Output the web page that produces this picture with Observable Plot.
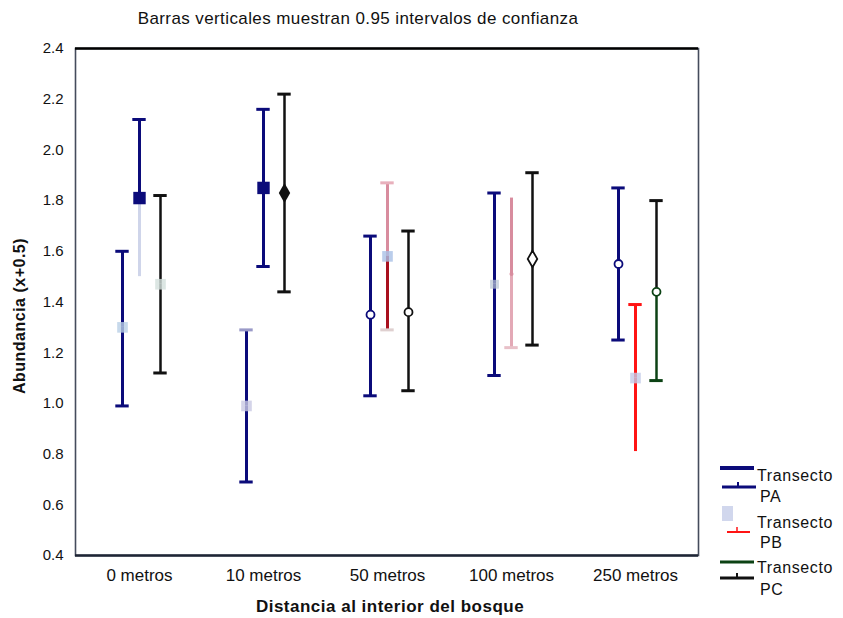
<!DOCTYPE html>
<html><head><meta charset="utf-8">
<script src="https://cdn.jsdelivr.net/npm/d3@7"></script>
<script src="https://cdn.jsdelivr.net/npm/@observablehq/plot@0.6"></script>
<style>
body{margin:0;background:#fff;}
#wrap{position:relative;width:843px;height:618px;font-family:"Liberation Sans",Arial,sans-serif;color:#111;overflow:hidden;}
.lbl{position:absolute;white-space:nowrap;line-height:1;}
</style></head><body><div id="wrap"></div>
<script>
// ---------- data ----------
const categories = ["0 metros", "10 metros", "50 metros", "100 metros", "250 metros"];
const seriesNames = ["Transecto PA", "Transecto PB", "Transecto PC"];
const meanPA = [1.30, 0.99, 1.35, 1.47, 1.55];
const lowPA  = [0.99, 0.69, 1.03, 1.11, 1.25];
const highPA = [1.60, 1.29, 1.66, 1.83, 1.85];
const meanPB = [1.81, 1.85, 1.58, 1.51, 1.10];
const lowPB  = [1.50, 1.54, 1.29, 1.22, 0.81];
const highPB = [2.12, 2.16, 1.87, 1.81, 1.39];
const meanPC = [1.47, 1.83, 1.36, 1.57, 1.44];
const lowPC  = [1.12, 1.44, 1.05, 1.23, 1.09];
const highPC = [1.82, 2.22, 1.68, 1.91, 1.80];
const yTicks = [0.4, 0.6, 0.8, 1.0, 1.2, 1.4, 1.6, 1.8, 2.0, 2.2, 2.4];
const titleText = "Barras verticales muestran 0.95 intervalos de confianza";
const xLabel = "Distancia al interior del bosque";
const yLabel = "Abundancia (x+0.5)";

// ---------- styles ----------
const W = 843, H = 618, mL = 75, mR = 145, mT = 48, mB = 63;
const bandW = (W - mL - mR) / categories.length;
const capW = 14;
const capInset = (bandW - capW) / 2;
const NAVY = "#0b0b7a", BLACK = "#111", PINK = "#d88c9e", RED = "#ff1414", GREEN = "#0c4214";
const seriesStyle = [
  { dx: -17, width: 3,
    upper: [NAVY, NAVY, NAVY, NAVY, NAVY], lower: [NAVY, NAVY, NAVY, NAVY, NAVY],
    capHi: [NAVY, "#9a9ac8", NAVY, NAVY, NAVY], capLo: [NAVY, NAVY, NAVY, NAVY, NAVY],
    sym: ["square", "square", "circle", "square", "circle"],
    fill: ["#b9cfe6", "#c9c9e3", "white", "#b8c4d4", "white"],
    stroke: ["none", "none", NAVY, "none", NAVY],
    r: [6, 6, 4, 5, 4], op: [0.8, 0.8, 1, 0.7, 1] },
  { dx: 0, width: 3,
    upper: [NAVY, NAVY, PINK, PINK, RED], lower: ["#cfd5ea", NAVY, "#a8101e", "#e3a9b6", RED],
    capHi: [NAVY, NAVY, "#e8b0bc", "none", RED], capLo: ["none", NAVY, "#dfd0d0", "#e8c0c8", "none"],
    sym: ["square", "square", "square", "circle", "square"],
    fill: [NAVY, NAVY, "#a9c1e6", PINK, "#c3cbe8"],
    stroke: ["none", "none", "none", "none", "none"],
    r: [7, 7, 6, 2, 6], op: [1, 1, 0.8, 1, 0.8] },
  { dx: 21, width: 2.5,
    upper: [BLACK, BLACK, BLACK, BLACK, BLACK], lower: [BLACK, BLACK, BLACK, BLACK, GREEN],
    capHi: [BLACK, BLACK, BLACK, BLACK, BLACK], capLo: [BLACK, BLACK, BLACK, BLACK, GREEN],
    sym: ["square", "diamond", "circle", "diamond", "circle"],
    fill: ["#d3e0dc", BLACK, "white", "white", "white"],
    stroke: ["none", "none", BLACK, BLACK, GREEN],
    r: [6, 6, 4, 5, 4], op: [0.8, 1, 1, 1, 1] }
];

const seriesData = [
  [meanPA, lowPA, highPA], [meanPB, lowPB, highPB], [meanPC, lowPC, highPC]
];

const marks = [];
seriesData.forEach(([mean, low, high], s) => {
  const st = seriesStyle[s];
  const rows = categories.map((c, i) => ({cat: c, series: seriesNames[s], mean: mean[i], low: low[i], high: high[i], i}));
  marks.push(Plot.ruleX(rows, {x: "cat", y1: "mean", y2: "high", dx: st.dx, stroke: d => st.upper[d.i], strokeWidth: st.width}));
  marks.push(Plot.ruleX(rows, {x: "cat", y1: "low", y2: "mean", dx: st.dx, stroke: d => st.lower[d.i], strokeWidth: st.width}));
  marks.push(Plot.tickY(rows, {x: "cat", y: "high", dx: st.dx, insetLeft: capInset, insetRight: capInset, stroke: d => st.capHi[d.i], strokeWidth: 3}));
  marks.push(Plot.tickY(rows, {x: "cat", y: "low", dx: st.dx, insetLeft: capInset, insetRight: capInset, stroke: d => st.capLo[d.i], strokeWidth: 3}));
  ["square", "circle", "diamond"].forEach(sym => {
    const sub = rows.filter(d => st.sym[d.i] === sym);
    if (!sub.length) return;
    marks.push(Plot.dot(sub, {x: "cat", y: "mean", dx: st.dx, symbol: sym, r: d => st.r[d.i],
      fill: d => st.fill[d.i], stroke: d => st.stroke[d.i], strokeWidth: 1.8, fillOpacity: d => st.op[d.i]}));
  });
});

const chart = Plot.plot({
  width: W, height: H,
  marginLeft: mL, marginRight: mR, marginTop: mT, marginBottom: mB,
  style: {fontFamily: "'Liberation Sans', Arial, sans-serif", color: "#111", background: "white"},
  x: {type: "band", domain: categories, padding: 0, label: null},
  y: {domain: [0.4, 2.4], label: null},
  color: {type: "identity"},
  r: {type: "identity"},
  opacity: {type: "identity"},
  marks: [
    Plot.frame({stroke: "#454c5c", strokeWidth: 1.6}),
    Plot.ruleY([2.4], {stroke: "#000", strokeWidth: 2.6}),
    Plot.ruleY([0.4], {stroke: "#1e2535", strokeWidth: 2.6}),
    Plot.axisY(yTicks, {tickFormat: d3.format(".1f"), tickSize: 0, tickPadding: 12, fontSize: 15, label: null}),
    Plot.axisX({tickSize: 0, tickPadding: 13, fontSize: 17, label: null}),
    ...marks
  ]
});

const wrap = document.getElementById("wrap");
wrap.appendChild(chart);

function label(text, x, y, css, rot) {
  const d = document.createElement("div");
  d.className = "lbl";
  d.textContent = text;
  d.style.left = x + "px"; d.style.top = y + "px";
  Object.assign(d.style, css);
  d.style.transform = "translate(-50%,-50%)" + (rot ? " rotate(-90deg)" : "");
  wrap.appendChild(d);
}
label(titleText, 358, 18, {fontSize: "17px", letterSpacing: "0.4px"});
label(xLabel, 390, 606, {fontSize: "17px", fontWeight: "bold", letterSpacing: "0.5px"});
label(yLabel, 20, 316, {fontSize: "16px", fontWeight: "bold", letterSpacing: "0.5px"}, true);

// legend
const leg = [
  {t: "Transecto", x: 757, y: 476}, {t: "PA", x: 760, y: 497},
  {t: "Transecto", x: 757, y: 523}, {t: "PB", x: 760, y: 543},
  {t: "Transecto", x: 757, y: 568}, {t: "PC", x: 760, y: 590}
];
leg.forEach(l => {
  const d = document.createElement("div");
  d.className = "lbl"; d.textContent = l.t;
  Object.assign(d.style, {left: l.x + "px", top: l.y + "px", fontSize: "16px", letterSpacing: "0.6px", transform: "translateY(-50%)"});
  wrap.appendChild(d);
});
const ns = "http://www.w3.org/2000/svg";
const ls = document.createElementNS(ns, "svg");
ls.setAttribute("width", 130); ls.setAttribute("height", 160);
Object.assign(ls.style, {position: "absolute", left: "713px", top: "455px"});
function seg(x1, y1, x2, y2, c, w) {
  const e = document.createElementNS(ns, "line");
  e.setAttribute("x1", x1 - 713); e.setAttribute("y1", y1 - 455);
  e.setAttribute("x2", x2 - 713); e.setAttribute("y2", y2 - 455);
  e.setAttribute("stroke", c); e.setAttribute("stroke-width", w);
  ls.appendChild(e);
}
const rect = document.createElementNS(ns, "rect");
Object.entries({x: 722 - 713, y: 506 - 455, width: 11, height: 15, fill: "#c5cde8", opacity: 0.8}).forEach(([k, v]) => rect.setAttribute(k, v));
ls.appendChild(rect);
seg(720, 468, 754, 468, NAVY, 4);
seg(722, 487, 756, 487, NAVY, 3); seg(738, 482, 738, 487, NAVY, 2);
seg(727, 532, 750, 532, RED, 2); seg(737, 527, 737, 532, RED, 1.5);
seg(720, 562, 754, 562, GREEN, 3);
seg(720, 578, 754, 578, BLACK, 3); seg(737, 573, 737, 578, BLACK, 2);
wrap.appendChild(ls);
</script></body></html>
